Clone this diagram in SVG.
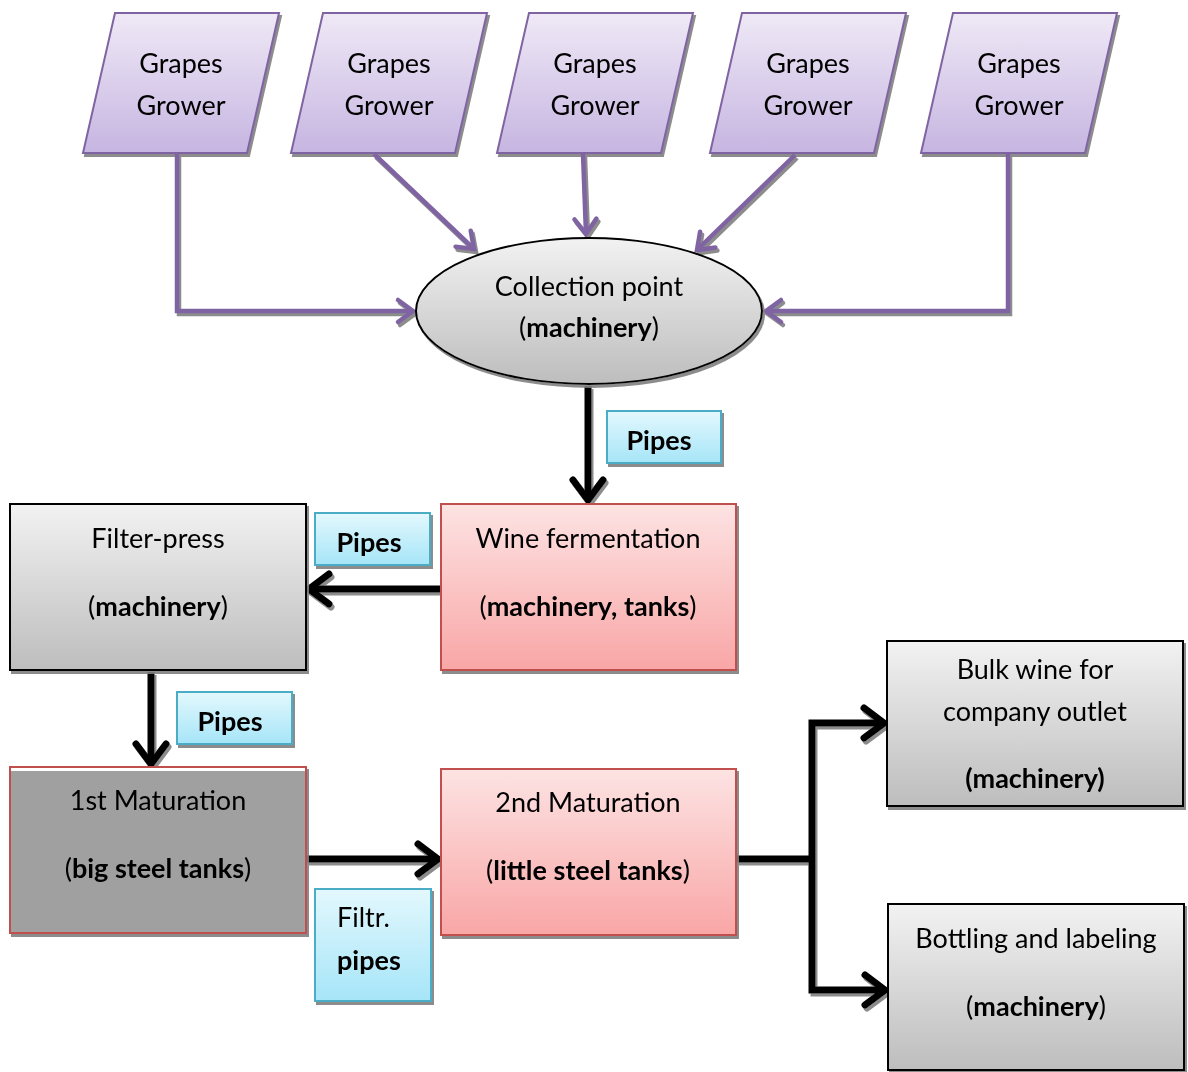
<svg xmlns="http://www.w3.org/2000/svg" width="1188" height="1072" viewBox="0 0 1188 1072">
  <style>
    text { font-family: "Lato", "Open Sans", "Liberation Sans", sans-serif; font-size: 27px; fill: #000; text-anchor: middle; }
    .b { font-weight: bold; }
    .grower { fill: url(#gPurple); stroke: #8064a2; stroke-width: 2; }
    .gray { fill: url(#gGray); stroke: #000; stroke-width: 2; }
    .pink { fill: url(#gPink); stroke: #c0504d; stroke-width: 2; }
    .dark { fill: #a0a0a0; stroke: #c0504d; stroke-width: 2; }
    .tag { fill: url(#gCyan); stroke: #4bacc6; stroke-width: 2; }
    .pline { fill: none; stroke: #8064a2; stroke-width: 4.5; }
    .kline { fill: none; stroke: #000; stroke-width: 7; }
  </style>
  <defs>
    <linearGradient id="gPurple" x1="0" y1="0" x2="0" y2="1">
      <stop offset="0" stop-color="#efe9f6"/>
      <stop offset="1" stop-color="#c6b5e1"/>
    </linearGradient>
    <linearGradient id="gGray" x1="0" y1="0" x2="0" y2="1">
      <stop offset="0" stop-color="#f2f2f2"/>
      <stop offset="1" stop-color="#bdbdbd"/>
    </linearGradient>
    <linearGradient id="gPink" x1="0" y1="0" x2="0" y2="1">
      <stop offset="0" stop-color="#fde3e3"/>
      <stop offset="1" stop-color="#f9a6a6"/>
    </linearGradient>
    <linearGradient id="gCyan" x1="0" y1="0" x2="0" y2="1">
      <stop offset="0" stop-color="#e3f8fd"/>
      <stop offset="1" stop-color="#a6e5f8"/>
    </linearGradient>
    <filter id="shadow" x="-10%" y="-10%" width="130%" height="130%">
      <feDropShadow dx="2" dy="3" stdDeviation="0.6" flood-color="#7f7f7f" flood-opacity="0.9"/>
    </filter>
    <marker id="pArrow" markerUnits="userSpaceOnUse" viewBox="-20 -16 24 32" refX="0" refY="0" markerWidth="24" markerHeight="32" orient="auto">
      <path d="M-15,-11 L0,0 L-15,11" fill="none" stroke="#8064a2" stroke-width="4.5" stroke-linecap="round"/>
    </marker>
    <marker id="kArrow" markerUnits="userSpaceOnUse" viewBox="-26 -22 30 44" refX="0" refY="0" markerWidth="30" markerHeight="44" orient="auto">
      <path d="M-20,-15 L0,0 L-20,15" fill="none" stroke="#000" stroke-width="7" stroke-linecap="round"/>
    </marker>
  </defs>

  <!-- growers -->
  <g id="grower1" filter="url(#shadow)">
    <polygon class="grower" points="115,13 279,13 247,153 83,153"/>
    <text x="181" y="73">Grapes</text>
    <text x="181" y="115">Grower</text>
  </g>
  <g id="grower2" filter="url(#shadow)">
    <polygon class="grower" points="323,13 487,13 455,153 291,153"/>
    <text x="389" y="73">Grapes</text>
    <text x="389" y="115">Grower</text>
  </g>
  <g id="grower3" filter="url(#shadow)">
    <polygon class="grower" points="529,13 693,13 661,153 497,153"/>
    <text x="595" y="73">Grapes</text>
    <text x="595" y="115">Grower</text>
  </g>
  <g id="grower4" filter="url(#shadow)">
    <polygon class="grower" points="742,13 906,13 874,153 710,153"/>
    <text x="808" y="73">Grapes</text>
    <text x="808" y="115">Grower</text>
  </g>
  <g id="grower5" filter="url(#shadow)">
    <polygon class="grower" points="953,13 1117,13 1085,153 921,153"/>
    <text x="1019" y="73">Grapes</text>
    <text x="1019" y="115">Grower</text>
  </g>

  <!-- connectors -->
  <g id="connectors" filter="url(#shadow)">
    <path class="pline" d="M177,154 V311 H413" marker-end="url(#pArrow)"/>
    <path class="pline" d="M374,154 L474,249" marker-end="url(#pArrow)"/>
    <path class="pline" d="M583,154 L586,234" marker-end="url(#pArrow)"/>
    <path class="pline" d="M795,155 L697,250" marker-end="url(#pArrow)"/>
    <path class="pline" d="M1008,154 V311 H766" marker-end="url(#pArrow)"/>
    <path class="kline" d="M588,386 V500" marker-end="url(#kArrow)"/>
    <path class="kline" d="M440,589 H309" marker-end="url(#kArrow)"/>
    <path class="kline" d="M151,672 V764" marker-end="url(#kArrow)"/>
    <path class="kline" d="M307,859 H438" marker-end="url(#kArrow)"/>
    <path class="kline" d="M737,859 H812"/>
    <path class="kline" d="M812,859 V723 H884" marker-end="url(#kArrow)"/>
    <path class="kline" d="M812,859 V990 H885" marker-end="url(#kArrow)"/>
  </g>

  <!-- collection point -->
  <g id="collection" filter="url(#shadow)">
    <ellipse cx="589" cy="311" rx="173" ry="73" fill="url(#gGray)" stroke="#000" stroke-width="2"/>
    <text x="589" y="296">Collection point</text>
    <text x="589" y="337">(<tspan class="b">machinery</tspan>)</text>
  </g>

  <!-- pipe tags -->
  <g id="tag1" filter="url(#shadow)">
    <rect class="tag" x="607" y="411" width="114" height="52"/>
    <text x="659" y="450" class="b">Pipes</text>
  </g>
  <g id="tag2" filter="url(#shadow)">
    <rect class="tag" x="315" y="513" width="115" height="52"/>
    <text x="369" y="552" class="b">Pipes</text>
  </g>
  <g id="tag3" filter="url(#shadow)">
    <rect class="tag" x="177" y="692" width="115" height="52"/>
    <text x="230" y="731" class="b">Pipes</text>
  </g>
  <g id="tag4" filter="url(#shadow)">
    <rect class="tag" x="315" y="889" width="116" height="112"/>
    <text x="337" y="927" style="text-anchor:start">Filtr.</text>
    <text x="337" y="970" class="b" style="text-anchor:start">pipes</text>
  </g>

  <!-- process boxes -->
  <g id="filterpress" filter="url(#shadow)">
    <rect class="gray" x="10" y="504" width="296" height="166"/>
    <text x="158" y="548">Filter-press</text>
    <text x="158" y="616">(<tspan class="b">machinery</tspan>)</text>
  </g>
  <g id="fermentation" filter="url(#shadow)">
    <rect class="pink" x="441" y="504" width="295" height="166"/>
    <text x="588" y="548">Wine fermentation</text>
    <text x="588" y="616">(<tspan class="b">machinery, tanks</tspan>)</text>
  </g>
  <g id="maturation1" filter="url(#shadow)">
    <rect class="dark" x="10" y="767" width="296" height="166"/>
    <line x1="11" y1="769.5" x2="305" y2="769.5" stroke="#ffffff" stroke-width="3"/>
    <text x="158" y="810">1st Maturation</text>
    <text x="158" y="878">(<tspan class="b">big steel tanks</tspan>)</text>
  </g>
  <g id="maturation2" filter="url(#shadow)">
    <rect class="pink" x="441" y="769" width="295" height="166"/>
    <text x="588" y="812">2nd Maturation</text>
    <text x="588" y="880">(<tspan class="b">little steel tanks</tspan>)</text>
  </g>
  <g id="bulkwine" filter="url(#shadow)">
    <rect class="gray" x="887" y="641" width="296" height="165"/>
    <text x="1035" y="679">Bulk wine for</text>
    <text x="1035" y="721">company outlet</text>
    <text x="1035" y="788" class="b">(machinery)</text>
  </g>
  <g id="bottling" filter="url(#shadow)">
    <rect class="gray" x="888" y="904" width="296" height="166"/>
    <text x="1036" y="948">Bottling and labeling</text>
    <text x="1036" y="1016">(<tspan class="b">machinery</tspan>)</text>
  </g>
</svg>
